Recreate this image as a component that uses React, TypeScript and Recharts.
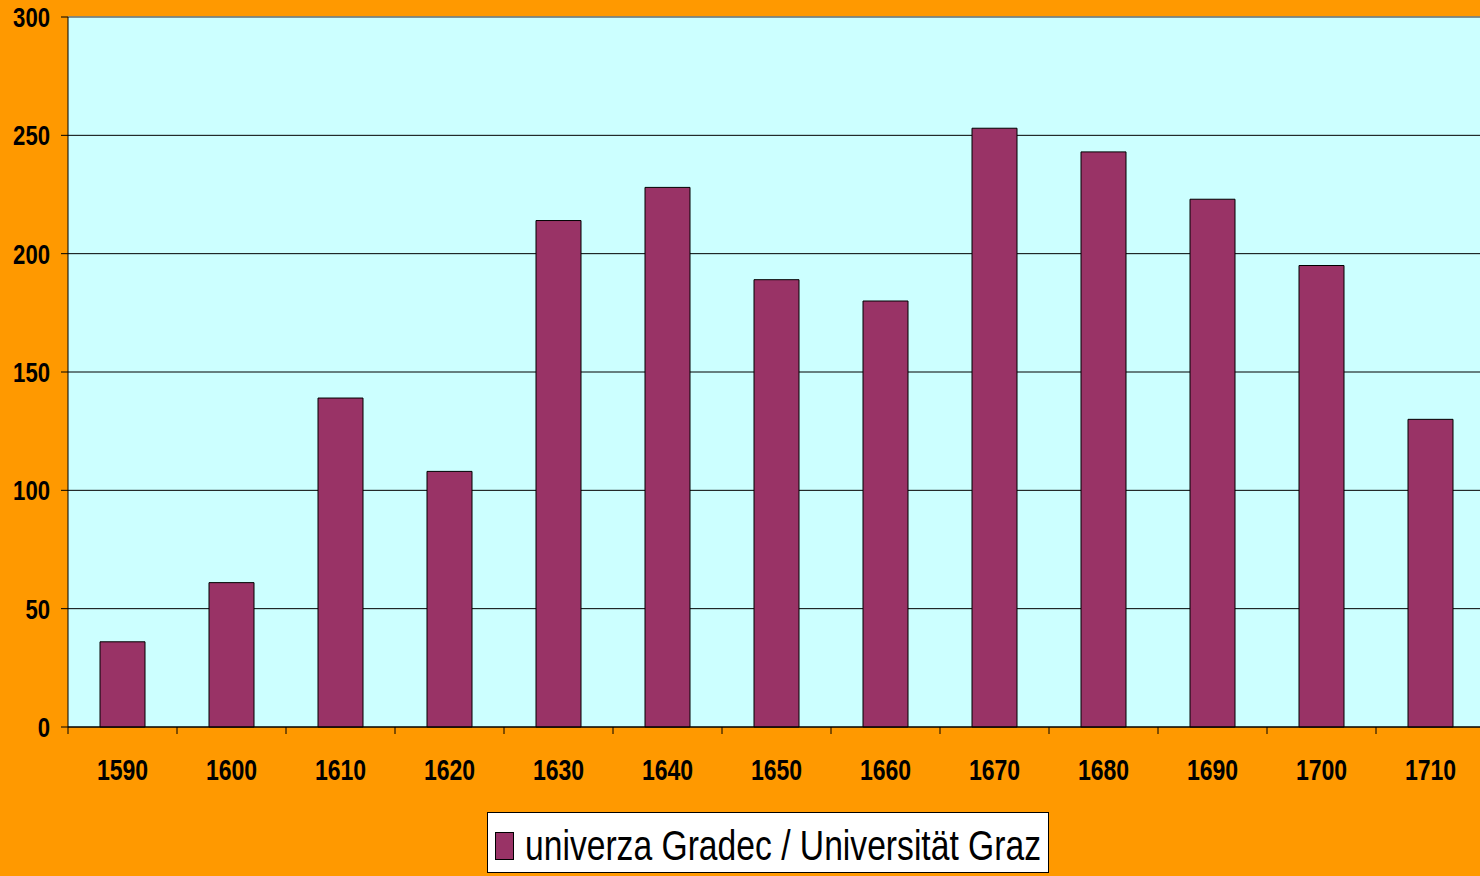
import React from 'react';
import { BarChart, Bar, XAxis, YAxis, CartesianGrid, Legend, ReferenceLine } from 'recharts';

const years = ['1590', '1600', '1610', '1620', '1630', '1640', '1650', '1660', '1670', '1680', '1690', '1700', '1710'];
const students = [36, 61, 139, 108, 214, 228, 189, 180, 253, 243, 223, 195, 130];
const yTicks = [0, 50, 100, 150, 200, 250, 300];
const seriesName = 'univerza Gradec / Universität Graz';

const data = years.map((year, i) => ({ year, value: students[i] }));

const FONT = "'Liberation Sans', Arial, sans-serif";

// narrow look: squeeze Arial-like glyphs with textLength
const XTick = (props: any) => {
  const { x, y, payload } = props;
  const off = payload.offset || 0;
  const label = String(payload.value);
  return (
    <g>
      <line x1={x - off} x2={x - off} y1={y} y2={y + 7} stroke="#000" strokeWidth={1} />
      <text
        x={x}
        y={y + 32}
        dy="0.71em"
        textAnchor="middle"
        fontFamily={FONT}
        fontWeight="bold"
        fontSize={29}
        fill="#000"
        textLength={label.length * 12.8}
        lengthAdjust="spacingAndGlyphs"
      >
        {label}
      </text>
    </g>
  );
};

const YTick = (props: any) => {
  const { x, y, payload } = props;
  const label = String(payload.value);
  return (
    <text
      x={x}
      y={y}
      dy="0.36em"
      textAnchor="end"
      fontFamily={FONT}
      fontWeight="bold"
      fontSize={28}
      fill="#000"
      textLength={label.length * 12.3}
      lengthAdjust="spacingAndGlyphs"
    >
      {label}
    </text>
  );
};

const LegendBox = () => (
  <svg width={562} height={61} style={{ display: 'block' }}>
    <rect x={0.5} y={0.5} width={561} height={60} fill="#fff" stroke="#000" />
    <rect x={8.5} y={20.5} width={18} height={27} fill="#993366" stroke="#000" />
    <text
      x={38}
      y={48}
      fontFamily={FONT}
      fontSize={42}
      fill="#000"
      textLength={516}
      lengthAdjust="spacingAndGlyphs"
    >
      {seriesName}
    </text>
  </svg>
);

export default function App() {
  return (
    <div style={{ position: 'absolute', left: 0, top: 0, width: 1480, height: 876, overflow: 'hidden', background: '#ff9900' }}>
      <BarChart width={1485} height={876} data={data} margin={{ top: 17, right: 0, left: 0, bottom: 13 }}>
        <CartesianGrid vertical={false} stroke="#000" fill="#ccffff" fillOpacity={1} />
        <ReferenceLine y={300} stroke="#8a9a9a" strokeWidth={1.5} />
        <XAxis
          dataKey="year"
          axisLine={{ stroke: '#000' }}
          tickLine={false}
          tickSize={0}
          tickMargin={0}
          height={75}
          interval={0}
          tick={<XTick />}
        />
        <YAxis
          domain={[0, 300]}
          ticks={yTicks}
          width={68}
          axisLine={{ stroke: '#000' }}
          tickLine={{ stroke: '#000' }}
          tickSize={7}
          tickMargin={11}
          tick={<YTick />}
        />
        <Legend
          verticalAlign="bottom"
          content={<LegendBox />}
          wrapperStyle={{ left: 487, top: 812, width: 562, height: 61, bottom: 'auto' }}
        />
        <Bar dataKey="value" name={seriesName} fill="#993366" stroke="#000" strokeWidth={1} barSize={45} isAnimationActive={false} />
      </BarChart>
    </div>
  );
}
